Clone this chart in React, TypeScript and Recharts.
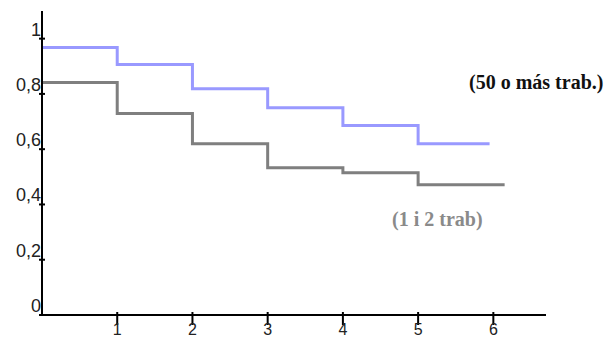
import React from "react";
import { LineChart, Line, XAxis, YAxis } from "recharts";

// survival-like step data (time, proportion)
const bigTimes = [0, 1, 2, 3, 4, 5, 5.95];
const bigValues = [0.968, 0.906, 0.819, 0.75, 0.686, 0.62, 0.62];
const smallTimes = [0, 1, 2, 3, 4, 5, 6.15];
const smallValues = [0.841, 0.729, 0.62, 0.533, 0.515, 0.471, 0.471];

const xTicks = [1, 2, 3, 4, 5, 6];
const yTicks = [0, 0.2, 0.4, 0.6, 0.8, 1];
const yTickLabels = ["0", "0,2", "0,4", "0,6", "0,8", "1"];

const bigLabel = "(50 o más trab.)";
const smallLabel = "(1 i 2 trab)";

const bigData = bigTimes.map((t, i) => ({ t, v: bigValues[i] }));
const smallData = smallTimes.map((t, i) => ({ t, v: smallValues[i] }));

const YTick = (props: any) => {
  const { x, y, payload } = props;
  const idx = yTicks.indexOf(payload.value);
  return (
    <g>
      <line x1={x - 3} x2={x + 3} y1={y} y2={y} stroke="#000" strokeWidth={2} />
      <text
        x={x - 1}
        y={y - 3}
        textAnchor="end"
        fontFamily="Liberation Sans, Arial, sans-serif"
        fontSize={18}
        fill="#222"
      >
        {idx >= 0 ? yTickLabels[idx] : String(payload.value)}
      </text>
    </g>
  );
};

const XTick = (props: any) => {
  const { x, y, payload } = props;
  return (
    <g>
      <line x1={x} x2={x} y1={y - 3} y2={y + 10} stroke="#000" strokeWidth={2} />
      <text
        x={x}
        y={y + 20}
        textAnchor="middle"
        fontFamily="Liberation Sans, Arial, sans-serif"
        fontSize={16}
        fill="#222"
      >
        {String(payload.value)}
      </text>
    </g>
  );
};

export default function App() {
  return (
    <div style={{ position: "absolute", left: 0, top: 0, width: 615, height: 340, background: "#fff" }}>
      <LineChart
        width={615}
        height={340}
        margin={{ top: 11, right: 69, bottom: 0, left: 0 }}
      >
        <XAxis
          type="number"
          dataKey="t"
          domain={[0, 6.7]}
          ticks={xTicks}
          tick={<XTick />}
          tickLine={false}
          tickSize={0}
          tickMargin={0}
          height={25}
          axisLine={{ stroke: "#000", strokeWidth: 2 }}
          allowDuplicatedCategory={false}
        />
        <YAxis
          type="number"
          domain={[0, 1.1]}
          ticks={yTicks}
          tick={<YTick />}
          tickLine={false}
          tickSize={0}
          tickMargin={0}
          width={42}
          axisLine={{ stroke: "#000", strokeWidth: 2 }}
        />
        <Line
          data={bigData}
          dataKey="v"
          type="stepAfter"
          stroke="#9999ff"
          strokeWidth={3}
          dot={false}
          isAnimationActive={false}
        />
        <Line
          data={smallData}
          dataKey="v"
          type="stepAfter"
          stroke="#7f7f7f"
          strokeWidth={3}
          dot={false}
          isAnimationActive={false}
        />
      </LineChart>
      <div
        style={{
          position: "absolute",
          left: 469,
          top: 71,
          lineHeight: "22px",
          fontFamily: "Liberation Serif, serif",
          fontWeight: "bold",
          fontSize: 20,
          color: "#111",
          whiteSpace: "nowrap",
        }}
      >
        {bigLabel}
      </div>
      <div
        style={{
          position: "absolute",
          left: 392,
          top: 208,
          lineHeight: "22px",
          fontFamily: "Liberation Serif, serif",
          fontWeight: "bold",
          fontSize: 20,
          color: "#8a8a8a",
          whiteSpace: "nowrap",
        }}
      >
        {smallLabel}
      </div>
    </div>
  );
}
